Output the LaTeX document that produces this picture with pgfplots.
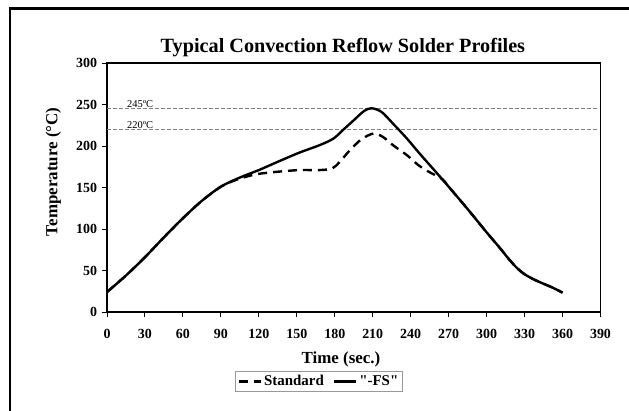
\documentclass[border=0pt]{standalone}
\usepackage{fontspec}
\setmainfont{Liberation Serif}
\newfontfamily\plainserif{Liberation Serif}
\usepackage{pgfplots}
\pgfplotsset{compat=1.18}

\begin{document}
\begin{tikzpicture}
\useasboundingbox (-107bp,-99bp) rectangle (522bp,312bp);
% outer chart frame (cropped on the right and bottom)
\draw[line width=2.5bp] (-97bp,-99bp) -- (-97bp,303.7bp) -- (522bp,303.7bp);
\begin{axis}[
    scale only axis,
    width=493.5bp, height=249bp,
    xmin=0, xmax=390, ymin=0, ymax=300,
    xtick={0,30,...,390},
    ytick={0,50,...,300},
    tick pos=left,
    tick align=outside,
    major tick length=4.5bp,
    axis line style={line width=1.5bp},
    tick style={line width=1bp, black},
    tick label style={font=\fontsize{14}{15}\selectfont\bfseries},
    /pgf/number format/assume math mode=true,
    xticklabel style={yshift=-9bp},
    yticklabel style={xshift=-2bp},
    title={Typical Convection Reflow Solder Profiles},
    title style={at={(0.478,1.042)}, anchor=base, inner sep=0pt, yshift=-6pt,
        font=\fontsize{20.3}{22}\selectfont\bfseries},
    xlabel={Time (sec.)},
    xlabel style={at={(0.474,-0.205)}, anchor=base, inner sep=0pt,
        font=\fontsize{17}{18}\selectfont\bfseries},
    ylabel={Temperature (°C)},
    ylabel style={at={(-0.109,0.563)}, anchor=center, inner sep=0pt,
        font=\fontsize{17}{18}\selectfont\bfseries},
    legend columns=2,
    legend style={at={(0.4296,-0.279)}, anchor=center,
        draw=gray!80, line width=0.8bp, inner sep=2bp,
        font=\fontsize{15}{16}\selectfont\bfseries,
        /tikz/every even column/.append style={column sep=7bp}},
    legend image code/.code={\draw[#1] (0bp,0bp) -- (22bp,0bp);},
]

% limit lines
\addplot[gray, line width=0.8bp, dash pattern=on 4bp off 2bp, forget plot]
    coordinates {(0,245) (388,245)};
\addplot[gray, line width=0.8bp, dash pattern=on 4bp off 2bp, forget plot]
    coordinates {(0,220) (388,220)};
\node[anchor=south west, inner sep=1bp, font=\fontsize{10.5}{11}\selectfont]
    at (axis cs:15,245) {245ºC};
\node[anchor=south west, inner sep=1bp, font=\fontsize{10.5}{11}\selectfont]
    at (axis cs:15,220) {220ºC};

% Standard
\addplot[black, line width=2.4bp, dash pattern=on 9bp off 6bp, smooth] coordinates {
(0,24) (15,44) (30,66) (45,90) (60,113) (75,134) (90,151) (100,158)
(110,163) (120,166.5) (135,169) (152,171) (168,171) (178,173) (184,181)
(192,195) (201,208) (210.5,215) (218,211) (226,201) (237,189) (246,177)
(253,170) (265,160) (270,151) (285,124) (300,96) (310,78) (318,63)
(324,53) (330,45.5) (337,39.5) (345,34) (352,29.5) (360,23.3)
};
\addlegendentry{Standard}

% -FS
\addplot[black, line width=2.4bp, smooth] coordinates {
(0,24) (15,44) (30,66) (45,90) (60,113) (75,134) (90,151) (105,162)
(120,171) (135,181) (152,192) (168,201) (179,209) (187,220) (195,231)
(203,242) (209,245.5) (217,241) (226,227) (237,209) (247,191) (258,172)
(270,151) (285,124) (300,96) (310,78) (318,63) (324,53) (330,45.5)
(337,39.5) (345,34) (352,29.5) (360,23.3)
};
\addlegendentry{{\plainserif\bfseries "-FS"}}

\end{axis}
\end{tikzpicture}
\end{document}
